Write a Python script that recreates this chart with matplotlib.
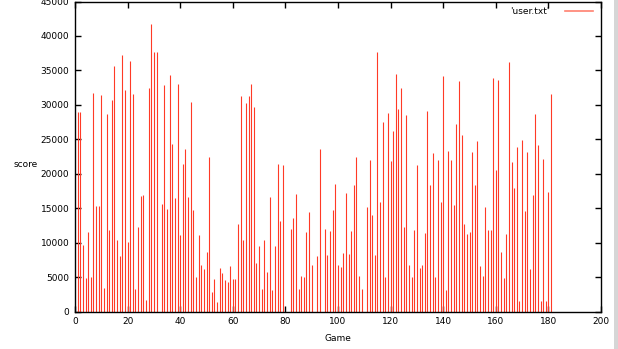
import numpy as np
import matplotlib
matplotlib.use('Agg')
import matplotlib.pyplot as plt
from matplotlib.lines import Line2D
from matplotlib.patches import Rectangle

plt.rcParams.update({
    'font.family': 'DejaVu Sans',
    'font.size': 6.5,
    'xtick.labelsize': 6.5,
    'ytick.labelsize': 6.5,
    'axes.linewidth': 1.0,
})

# score per game (0 = no visible impulse)
games = np.arange(1, 182)
scores = [
    28990, 28990, 9630, 4840, 11470, 4990, 31750, 15250, 15250, 31360,
    3390, 28650, 11810, 30690, 35570, 10310, 8080, 37220, 32140, 10160,
    36300, 31510, 3240, 12200, 16750, 16840, 1600, 32430, 41670, 37610,
    37610, 0, 15540, 32820, 14910, 34270, 24250, 16460, 32960, 11080,
    21390, 23520, 16600, 30440, 14710, 5030, 11080, 6820, 6200, 8620,
    22360, 2860, 4690, 1450, 6340, 5520, 4550, 4260, 6580, 4790,
    4690, 12680, 31270, 10360, 30250, 31270, 33060, 29720, 7020, 9440,
    3240, 10310, 5710, 16600, 3100, 9440, 21390, 13120, 21250, 0,
    0, 11950, 13600, 17090, 3240, 5130, 4940, 11470, 14470, 6730,
    0, 8030, 23520, 0, 11950, 8230, 11710, 14710, 18490, 6730,
    6490, 8470, 17230, 8320, 11620, 18390, 22360, 5130, 3240, 0,
    15150, 21970, 13990, 8180, 37700, 15920, 27490, 4940, 28750, 21830,
    26230, 34460, 29380, 32430, 12200, 28510, 6730, 5030, 11810, 21250,
    6340, 6730, 11330, 29090, 18300, 23040, 4940, 21970, 15880, 34220,
    3100, 23280, 21970, 15440, 27200, 33440, 25650, 12680, 11230, 11470,
    23140, 18390, 24730, 6580, 5130, 15150, 11810, 11810, 33830, 20520,
    33640, 8620, 4840, 11230, 36150, 21680, 18000, 23910, 1550, 24930,
    14570, 23140, 6240, 16940, 28650, 24100, 1550, 22070, 1550, 17280,
    31510,
]
xticks = list(range(0, 201, 20))
yticks = list(range(0, 45001, 5000))

red = '#ff3a26'

fig = plt.figure(figsize=(6.18, 3.49), dpi=100)
ax = fig.add_axes([75 / 618, 1 - 311.5 / 349, 526 / 618, 310 / 349])

ax.vlines(games, 0, scores, color=red, linewidth=0.8)

ax.set_xlim(0, 200)
ax.set_ylim(0, 45000)
ax.set_xticks(xticks)
ax.set_yticks(yticks)
ax.tick_params(direction='in', top=True, right=True, length=4, width=1, pad=4)

ax.set_xlabel('Game', labelpad=6)
ax.text(-0.07, 0.475, 'score', transform=ax.transAxes, ha='right', va='center')

# gnuplot style key: title on the left, sample line on the right
ax.text(0.903, 0.969, "'user.txt'", transform=ax.transAxes, ha='right', va='center')
ax.add_line(Line2D([0.9325, 0.9845], [0.969, 0.969], transform=ax.transAxes,
                   color='#ff8070', linewidth=1.2))

# strip of window chrome at the right edge of the screenshot
fig.patches.append(Rectangle((614 / 618, 0), 4 / 618, 1, transform=fig.transFigure,
                             facecolor='#d6d6d6', edgecolor='none'))

fig.savefig('out.png', dpi=100)
